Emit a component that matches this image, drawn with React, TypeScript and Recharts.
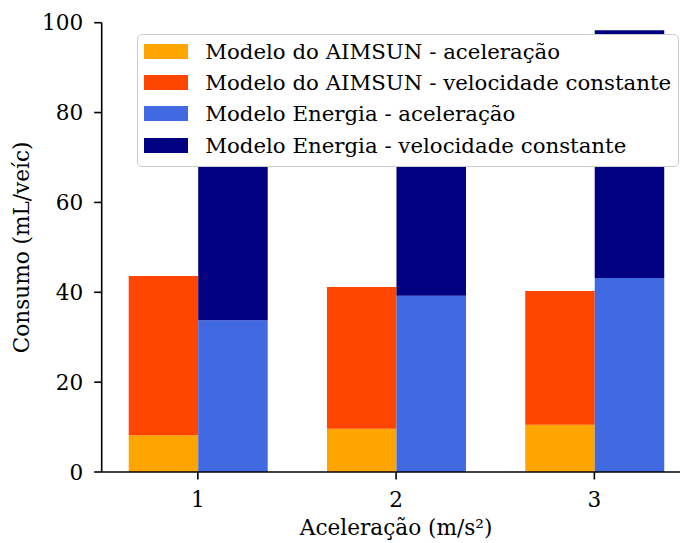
import React from "react";
import { BarChart, Bar, XAxis, YAxis, Legend } from "recharts";

// categories (acceleration in m/s²)
const categories = ["1", "2", "3"];

// fuel consumption per vehicle (mL/veíc), split by trip phase
const aimsunAccel = [8.2, 9.6, 10.5];
const aimsunConst = [35.4, 31.6, 29.8];
const energiaAccel = [33.8, 39.2, 43.2];
const energiaConst = [58.0, 56.5, 55.1];

const yTicks = [0, 20, 40, 60, 80, 100];

const FONT = "'DejaVu Serif', serif";
const FS = 21.6;
const LEGEND_FS = 21.3;

const series = [
  { key: "aimsunAccel", stack: "aimsun", name: "Modelo do AIMSUN - aceleração", color: "#FFA500" },
  { key: "aimsunConst", stack: "aimsun", name: "Modelo do AIMSUN - velocidade constante", color: "#FF4500" },
  { key: "energiaAccel", stack: "energia", name: "Modelo Energia - aceleração", color: "#4169E1" },
  { key: "energiaConst", stack: "energia", name: "Modelo Energia - velocidade constante", color: "#000080" },
];

const data = categories.map((cat, i) => ({
  cat,
  aimsunAccel: aimsunAccel[i],
  aimsunConst: aimsunConst[i],
  energiaAccel: energiaAccel[i],
  energiaConst: energiaConst[i],
}));

const axisStroke = { stroke: "#000", strokeWidth: 1.6 };

function LegendBox() {
  return (
    <div
      style={{
        width: 542,
        height: 132.5,
        boxSizing: "border-box",
        background: "#fff",
        border: "1.4px solid #cccccc",
        borderRadius: 5,
        padding: "0.4px 0 0 6.4px",
        fontFamily: FONT,
        fontSize: LEGEND_FS,
        color: "#000",
      }}
    >
      {series.map((s) => (
        <div key={s.key} style={{ display: "flex", alignItems: "center", height: 31.3 }}>
          <span style={{ width: 43.2, height: 15, background: s.color, display: "inline-block", flexShrink: 0 }} />
          <span style={{ marginLeft: 17.6, whiteSpace: "nowrap" }}>{s.name}</span>
        </div>
      ))}
    </div>
  );
}

export default function App() {
  return (
    <div style={{ position: "fixed", left: 0, top: 0, width: 680, height: 543, overflow: "hidden", background: "#fff" }}>
      <BarChart
        width={700}
        height={543}
        data={data}
        margin={{ top: 22.7, right: 9.5, bottom: 11, left: 11.7 }}
        barSize={69.5}
        barGap={0}
      >
        <XAxis
          dataKey="cat"
          height={60}
          padding={{ left: -3, right: -3 }}
          axisLine={axisStroke}
          tickLine={axisStroke}
          tickSize={7.5}
          tickMargin={12.5}
          tick={{ fill: "#000", fontSize: FS, fontFamily: FONT }}
          label={{
            content: ({ viewBox }: any) => (
              <text
                x={viewBox.x + viewBox.width / 2}
                y={535}
                textAnchor="middle"
                fontFamily={FONT}
                fontSize={FS}
                fill="#000"
              >
                Aceleração (m/s²)
              </text>
            ),
          }}
        />
        <XAxis xAxisId="top" dataKey="cat" orientation="top" height={0} tick={false} tickLine={false} axisLine={axisStroke} padding={{ left: -3, right: -3 }} />
        <YAxis
          width={90}
          domain={[0, 100]}
          ticks={yTicks}
          axisLine={axisStroke}
          tickLine={axisStroke}
          tickSize={7.5}
          tickMargin={11}
          tick={{ fill: "#000", fontSize: FS, fontFamily: FONT }}
          label={{
            content: ({ viewBox }: any) => {
              const cy = viewBox.y + viewBox.height / 2;
              return (
                <text
                  x={29.5}
                  y={cy}
                  transform={`rotate(-90 29.5 ${cy})`}
                  textAnchor="middle"
                  fontFamily={FONT}
                  fontSize={FS}
                  fill="#000"
                >
                  Consumo (mL/veíc)
                </text>
              );
            },
          }}
        />
        {series.map((s) => (
          <Bar
            key={s.key}
            dataKey={s.key}
            stackId={s.stack}
            name={s.name}
            fill={s.color}
            isAnimationActive={false}
          />
        ))}
        <Legend
          layout="horizontal"
          verticalAlign="middle"
          align="center"
          wrapperStyle={{ position: "absolute", left: 137, top: 34.3, width: 542, height: 132.5 }}
          content={() => <LegendBox />}
        />
      </BarChart>
    </div>
  );
}
